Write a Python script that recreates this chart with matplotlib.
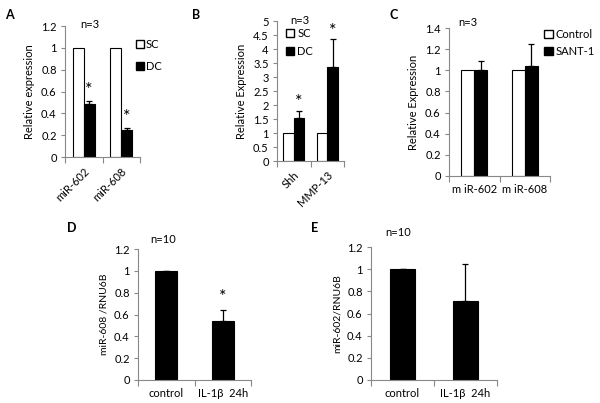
import matplotlib
matplotlib.use("Agg")
import matplotlib.pyplot as plt
import numpy as np
from matplotlib.patches import Patch

plt.rcParams['font.family'] = ['Lato', 'DejaVu Sans']
plt.rcParams['font.size'] = 7.5

# Panel A
a_cats = ["miR-602", "miR-608"]
a_sc = [1.0, 1.0]
a_dc = [0.49, 0.25]
a_dc_err = [0.025, 0.015]
# Panel B
b_cats = ["Shh", "MMP-13"]
b_sc = [1.0, 1.0]
b_dc = [1.52, 3.35]
b_dc_err = [0.28, 1.0]
# Panel C
c_cats = ["m iR-602", "m iR-608"]
c_ctrl = [1.0, 1.0]
c_sant = [1.0, 1.04]
c_sant_err = [0.09, 0.21]
# Panel D
d_cats = ["control", "IL-1β  24h"]
d_vals = [1.0, 0.54]
d_err = [0.003, 0.10]
# Panel E
e_cats = ["control", "IL-1β  24h"]
e_vals = [1.0, 0.71]
e_err = [0.0, 0.34]
# y tick labels
a_yticks = ["0", "0.2", "0.4", "0.6", "0.8", "1", "1.2"]
b_yticks = ["0", "0.5", "1", "1.5", "2", "2.5", "3", "3.5", "4", "4.5", "5"]
c_yticks = ["0", "0.2", "0.4", "0.6", "0.8", "1", "1.2", "1.4"]
d_yticks = a_yticks
e_yticks = a_yticks

W, H = 600, 403
fig = plt.figure(figsize=(6, 4.03), dpi=100)

def mkax(x0, x1, ytop, ybot):
    return fig.add_axes([x0 / W, 1 - ybot / H, (x1 - x0) / W, (ybot - ytop) / H])

def style(ax, labels, ncat):
    vals = [float(s) for s in labels]
    ymax = vals[-1]
    ax.set_xlim(0, ncat)
    ax.set_ylim(0, ymax * 1.0008)
    ax.set_yticks(vals)
    ax.set_yticklabels(labels)
    for s in ["top", "right"]:
        ax.spines[s].set_visible(False)
    for s in ["left", "bottom"]:
        ax.spines[s].set_color("#888888")
        ax.spines[s].set_linewidth(0.8)
    ax.set_xticks(np.arange(0, ncat + 1))
    ax.set_xticklabels([])
    ax.tick_params(axis="x", which="major", length=4, color="#888888", direction="out")
    ax.tick_params(axis="y", length=3, color="#888888", pad=3, labelsize=8)

ekw = dict(ecolor="black", elinewidth=0.9, capsize=2.5, capthick=0.9)

# ---- Panel A
ax = mkax(65, 140, 26, 157)
style(ax, a_yticks, 2)
x = np.arange(2) + 0.5
w = 0.29
ax.bar(x - w / 2, a_sc, w, color="white", edgecolor="black", linewidth=0.8)
ax.bar(x + w / 2, a_dc, w, color="black", edgecolor="black", linewidth=0.8,
       yerr=[np.zeros(2), a_dc_err], error_kw=ekw)
for xi, v, e in zip(x, a_dc, a_dc_err):
    ax.text(xi + w / 2, v + e + 0.03, "*", ha="center", va="bottom", fontsize=13)
ax.set_xticks(x, minor=True)
ax.set_xticklabels(a_cats, minor=True, rotation=45, ha="right", rotation_mode="anchor", fontsize=8)
ax.tick_params(axis="x", which="minor", length=0, pad=6)
ax.set_ylabel("Relative expression", fontsize=8, labelpad=4)
fig.text(80 / W, 1 - 25 / H, "n=3", fontsize=8, va="center")
ax.legend(handles=[Patch(facecolor="white", edgecolor="black", label="SC"),
                   Patch(facecolor="black", edgecolor="black", label="DC")],
          loc="upper left", bbox_to_anchor=(136 / W, 1 - 39 / H), bbox_transform=fig.transFigure,
          frameon=False, handlelength=0.7, handleheight=0.7, handletextpad=0.2,
          labelspacing=1.0, fontsize=8, borderpad=0, borderaxespad=0)
fig.text(5 / W, 1 - 15 / H, "A", fontsize=9, fontweight="bold", va="center")

# ---- Panel B
ax = mkax(277, 344, 21, 161)
style(ax, b_yticks, 2)
w = 0.32
ax.bar(x - w / 2, b_sc, w, color="white", edgecolor="black", linewidth=0.8)
ax.bar(x + w / 2, b_dc, w, color="black", edgecolor="black", linewidth=0.8,
       yerr=[np.zeros(2), b_dc_err], error_kw=ekw)
for xi, v, e in zip(x, b_dc, b_dc_err):
    ax.text(xi + w / 2, v + e + 0.02, "*", ha="center", va="bottom", fontsize=13)
ax.set_xticks(x, minor=True)
ax.set_xticklabels(b_cats, minor=True, rotation=45, ha="right", rotation_mode="anchor", fontsize=8)
ax.tick_params(axis="x", which="minor", length=0, pad=6)
ax.set_ylabel("Relative Expression", fontsize=8, labelpad=4)
fig.text(290 / W, 1 - 21 / H, "n=3", fontsize=8, va="center")
ax.legend(handles=[Patch(facecolor="white", edgecolor="black", label="SC"),
                   Patch(facecolor="black", edgecolor="black", label="DC")],
          loc="upper left", bbox_to_anchor=(286 / W, 1 - 28 / H), bbox_transform=fig.transFigure,
          frameon=False, handlelength=0.7, handleheight=0.7, handletextpad=0.3,
          labelspacing=0.6, fontsize=8, borderpad=0, borderaxespad=0)
fig.text(192 / W, 1 - 15 / H, "B", fontsize=9, fontweight="bold", va="center")

# ---- Panel C
ax = mkax(449, 550, 28, 176)
style(ax, c_yticks, 2)
w = 0.26
ax.bar(x - w / 2, c_ctrl, w, color="white", edgecolor="black", linewidth=0.8)
ax.bar(x + w / 2, c_sant, w, color="black", edgecolor="black", linewidth=0.8,
       yerr=[np.zeros(2), c_sant_err], error_kw=ekw)
ax.set_xticks(x, minor=True)
ax.set_xticklabels(c_cats, minor=True, fontsize=8)
ax.tick_params(axis="x", which="minor", length=0, pad=6)
ax.set_ylabel("Relative Expression", fontsize=8, labelpad=4)
fig.text(458 / W, 1 - 23 / H, "n=3", fontsize=8, va="center")
ax.legend(handles=[Patch(facecolor="white", edgecolor="black", label="Control"),
                   Patch(facecolor="black", edgecolor="black", label="SANT-1")],
          loc="upper left", bbox_to_anchor=(544 / W, 1 - 29 / H), bbox_transform=fig.transFigure,
          frameon=False, handlelength=0.8, handleheight=0.7, handletextpad=0.2,
          labelspacing=0.5, fontsize=8, borderpad=0, borderaxespad=0)
fig.text(390 / W, 1 - 15 / H, "C", fontsize=9, fontweight="bold", va="center")

# ---- Panel D
ax = mkax(138, 251, 249, 380)
style(ax, d_yticks, 2)
w = 0.39
ax.bar(x, d_vals, w, color="black", edgecolor="black", linewidth=0.8,
       yerr=[np.zeros(2), d_err], error_kw=ekw)
ax.text(x[1], d_vals[1] + d_err[1] + 0.05, "*", ha="center", va="bottom", fontsize=13)
ax.set_xticks(x, minor=True)
ax.set_xticklabels(d_cats, minor=True, fontsize=8)
ax.tick_params(axis="x", which="minor", length=0, pad=6)
ax.set_ylabel("miR-608 /RNU6B", fontsize=7.5, labelpad=4)
fig.text(163 / W, 1 - 239 / H, "n=10", fontsize=8, va="center", ha="center")
fig.text(67 / W, 1 - 228 / H, "D", fontsize=9, fontweight="bold", va="center")

# ---- Panel E
ax = mkax(371, 497, 247, 380)
style(ax, e_yticks, 2)
ax.bar(x, e_vals, w, color="black", edgecolor="black", linewidth=0.8,
       yerr=[np.zeros(2), e_err], error_kw=ekw)
ax.set_xticks(x, minor=True)
ax.set_xticklabels(e_cats, minor=True, fontsize=8)
ax.tick_params(axis="x", which="minor", length=0, pad=6)
ax.set_ylabel("miR-602/RNU6B", fontsize=7.5, labelpad=4)
fig.text(398 / W, 1 - 233 / H, "n=10", fontsize=8, va="center", ha="center")
fig.text(311 / W, 1 - 228 / H, "E", fontsize=9, fontweight="bold", va="center")

fig.savefig("out.png", dpi=100, facecolor="white")
